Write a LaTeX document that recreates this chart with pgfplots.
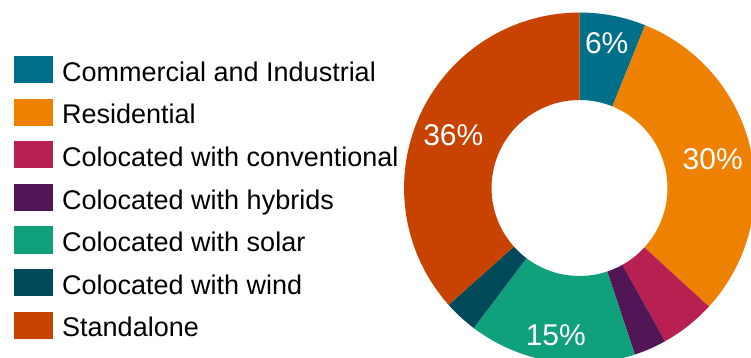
\documentclass[border=0pt]{standalone}
\usepackage{pgfplots}
\pgfplotsset{compat=1.18}
\usepackage{pgfplotstable}
\usepackage{fontspec}
\setmainfont{Liberation Sans}
\definecolor{ci}{RGB}{0,111,138}
\definecolor{res}{RGB}{238,130,0}
\definecolor{conv}{RGB}{185,32,82}
\definecolor{hyb}{RGB}{82,21,85}
\definecolor{sol}{RGB}{16,160,123}
\definecolor{wind}{RGB}{0,73,90}
\definecolor{stand}{RGB}{200,67,0}
\pgfplotstableread{
share col name
6.1 ci {Commercial and Industrial}
30.7 res {Residential}
5.1 conv {Colocated with conventional}
3.0 hyb {Colocated with hybrids}
15.4 sol {Colocated with solar}
3.1 wind {Colocated with wind}
36.6 stand {Standalone}
}\shares
\begin{document}
\begin{tikzpicture}
\begin{axis}[at={(0,0)}, anchor=south west, x=1pt, y=1pt, scale only axis,
  xmin=0, xmax=751, ymin=0, ymax=358, hide axis, clip=true]
\def\cum{0}
\pgfplotsforeachungrouped \k in {0,...,6}{%
  \pgfplotstablegetelem{\k}{share}\of\shares \let\sshare\pgfplotsretval
  \pgfplotstablegetelem{\k}{col}\of\shares \let\scol\pgfplotsretval
  \pgfmathsetmacro\sa{3.6*\cum}%
  \pgfmathsetmacro\sb{3.6*(\cum+\sshare)}%
  \pgfmathsetmacro\cum{\cum+\sshare}%
  \edef\doit{\noexpand\addplot[fill=\scol, draw=none, domain=0:2.05, samples=83, variable=\noexpand\t]
   ({579.5+(88+87.5*(\noexpand\t<1.0125))*sin(\sa+(\sb-\sa)*min(\noexpand\t,1,2.05-\noexpand\t))},
    {170+(88+87.5*(\noexpand\t<1.0125))*cos(\sa+(\sb-\sa)*min(\noexpand\t,1,2.05-\noexpand\t))});}%
  \doit
}
\node[anchor=base, text=white, font=\fontsize{30}{36}\selectfont, inner sep=0] at (axis cs:606.7,304.0) {6\%};
\node[anchor=base, text=white, font=\fontsize{30}{36}\selectfont, inner sep=0] at (axis cs:712.7,188.1) {30\%};
\node[anchor=base, text=white, font=\fontsize{30}{36}\selectfont, inner sep=0] at (axis cs:453.3,212.3) {36\%};
\node[anchor=base, text=white, font=\fontsize{30}{36}\selectfont, inner sep=0] at (axis cs:555.8,12.6) {15\%};
\pgfplotsforeachungrouped \k in {0,...,6}{%
  \pgfplotstablegetelem{\k}{col}\of\shares \let\scol\pgfplotsretval
  \pgfplotstablegetelem{\k}{name}\of\shares \let\sname\pgfplotsretval
  \pgfmathsetmacro\ytop{358-56-42.6*\k}%
  \pgfmathsetmacro\ybot{358-83.3-42.6*\k}%
  \pgfmathsetmacro\ybase{358-81.3-42.6*\k}%
  \edef\doit{\noexpand\fill[\scol] (axis cs:14,\ybot) rectangle (axis cs:52.7,\ytop);
   \noexpand\node[anchor=base west, inner sep=0, font=\noexpand\fontsize{27}{32}\noexpand\selectfont] at (axis cs:62,\ybase) {\sname};}%
  \doit
}
\end{axis}
\pgfresetboundingbox
\useasboundingbox (0,0) rectangle (751pt,358pt);
\end{tikzpicture}
\end{document}
